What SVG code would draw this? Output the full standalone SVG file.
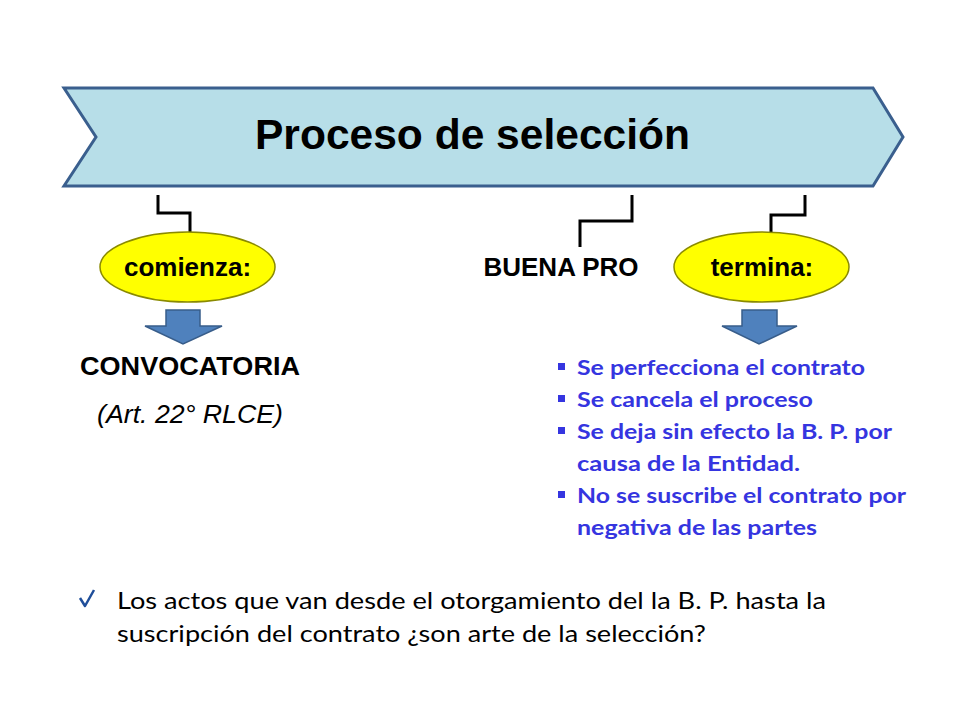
<svg xmlns="http://www.w3.org/2000/svg" width="960" height="720" viewBox="0 0 960 720">
<style>
.hdr{font-family:"Liberation Sans",Arial,sans-serif;font-weight:bold;fill:#000}
.conn{fill:none;stroke:#000;stroke-width:3}
.ell{fill:#FFFF00;stroke:#8A8A00;stroke-width:1.5}
.arr{fill:#4F81BD;stroke:#385D8A;stroke-width:1.5}
.blue{font-family:Lato,"Open Sans",sans-serif;font-weight:bold;font-size:21.5px;fill:#3535E0}
.bul{fill:#3535E0}
.body{font-family:Lato,"Open Sans",sans-serif;font-size:23px;fill:#000}
</style>
<rect width="960" height="720" fill="#fff"/>
<g id="banner">
<polygon points="64,88 873,88 903,137 873,186 64,186 96,137" fill="#B7DEE8" stroke="#3A5F8E" stroke-width="3" stroke-linejoin="miter"/>
<text class="hdr" x="255" y="149" font-size="42" textLength="435" lengthAdjust="spacingAndGlyphs">Proceso de selección</text>
</g>
<g id="connectors">
<polyline class="conn" points="158,195 158,213 190,213 190,232"/>
<polyline class="conn" points="632,195 632,221 580,221 580,247"/>
<polyline class="conn" points="805,195 805,215 771,215 771,232"/>
</g>
<g id="comienza">
<ellipse class="ell" cx="187.5" cy="267" rx="87.5" ry="35"/>
<text class="hdr" x="187.5" y="276" font-size="26" text-anchor="middle">comienza:</text>
</g>
<g id="buenapro">
<text class="hdr" x="561" y="276" font-size="26" text-anchor="middle">BUENA PRO</text>
</g>
<g id="termina">
<ellipse class="ell" cx="761.5" cy="267" rx="87.5" ry="35"/>
<text class="hdr" x="762" y="276" font-size="26" text-anchor="middle">termina:</text>
</g>
<g id="arrow1">
<polygon class="arr" points="166,310 200,310 200,326 222,326 183,344 145,326 166,326"/>
</g>
<g id="arrow2">
<polygon class="arr" points="742,310 777,310 777,326 797,326 759,344 722,326 742,326"/>
</g>
<g id="convocatoria">
<text class="hdr" x="80" y="375" font-size="26" textLength="220" lengthAdjust="spacingAndGlyphs">CONVOCATORIA</text>
<text x="97" y="423" font-family="Liberation Sans,Arial,sans-serif" font-style="italic" font-size="26.5" fill="#000" textLength="186" lengthAdjust="spacingAndGlyphs">(Art. 22° RLCE)</text>
</g>
<g id="lista">
<rect class="bul" x="558" y="363" width="7" height="7"/>
<rect class="bul" x="558" y="395" width="7" height="7"/>
<rect class="bul" x="558" y="427" width="7" height="7"/>
<rect class="bul" x="558" y="491" width="7" height="7"/>
<text class="blue" x="577" y="375" textLength="288" lengthAdjust="spacingAndGlyphs">Se perfecciona el contrato</text>
<text class="blue" x="577" y="407" textLength="236" lengthAdjust="spacingAndGlyphs">Se cancela el proceso</text>
<text class="blue" x="577" y="439" textLength="315" lengthAdjust="spacingAndGlyphs">Se deja sin efecto la B. P. por</text>
<text class="blue" x="577" y="471" textLength="223" lengthAdjust="spacingAndGlyphs">causa de la Entidad.</text>
<text class="blue" x="577" y="503" textLength="329" lengthAdjust="spacingAndGlyphs">No se suscribe el contrato por</text>
<text class="blue" x="577" y="535" textLength="240" lengthAdjust="spacingAndGlyphs">negativa de las partes</text>
</g>
<g id="pregunta">
<path d="M80,598 L85,606 L94,590" fill="none" stroke="#1F4E9A" stroke-width="2.5" stroke-linejoin="round"/>
<text class="body" x="117" y="609" textLength="709" lengthAdjust="spacingAndGlyphs">Los actos que van desde el otorgamiento del la B. P. hasta la</text>
<text class="body" x="117" y="642" textLength="589" lengthAdjust="spacingAndGlyphs">suscripción del contrato ¿son arte de la selección?</text>
</g>
</svg>
